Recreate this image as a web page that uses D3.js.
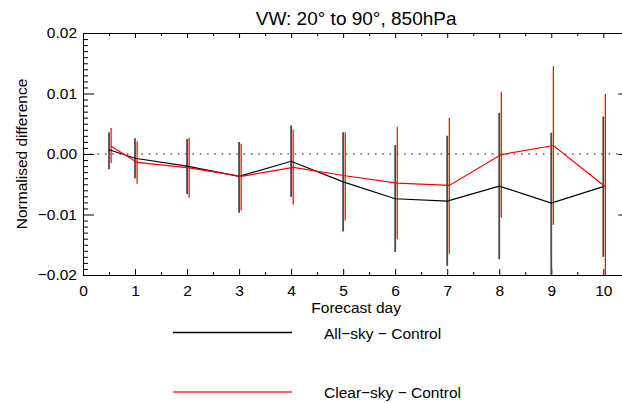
<!DOCTYPE html>
<html><head><meta charset="utf-8">
<script src="https://cdn.jsdelivr.net/npm/d3@7"></script>
<style>
body{margin:0;background:#fff}
svg{display:block;font-family:"Liberation Sans",Arial,Helvetica,sans-serif}
</style>
</head><body>
<svg id="chart" width="622" height="403"></svg>
<script>
// ---- data ----
const days = [0.5, 1, 2, 3, 4, 5, 6, 7, 8, 9, 10];
const allSky   = [0.0007, -0.0007, -0.0020, -0.0037, -0.0012, -0.0046, -0.0074, -0.0078, -0.0053, -0.0081, -0.0054];
const allSkyHi = [0.0036, 0.0026, 0.0025, 0.0020, 0.0047, 0.0036, 0.0015, 0.0030, 0.0068, 0.0035, 0.0062];
const allSkyLo = [-0.0025, -0.0040, -0.0066, -0.0097, -0.0071, -0.0128, -0.0162, -0.0185, -0.0174, -0.0210, -0.0170];
const clearSky   = [0.0013, -0.0014, -0.0023, -0.0037, -0.0022, -0.0036, -0.0048, -0.0052, -0.0001, 0.0014, -0.0054];
const clearSkyHi = [0.0043, 0.0021, 0.0027, 0.0017, 0.0040, 0.0036, 0.0045, 0.0060, 0.0103, 0.0145, 0.0099];
const clearSkyLo = [-0.0015, -0.0049, -0.0072, -0.0093, -0.0084, -0.0110, -0.0141, -0.0165, -0.0105, -0.0117, -0.0210];
const xTicks = [0, 1, 2, 3, 4, 5, 6, 7, 8, 9, 10];
const yTicks = [-0.02, -0.01, 0.00, 0.01, 0.02];
const seriesNames = ["All\u2212sky \u2212 Control", "Clear\u2212sky \u2212 Control"];
const titleText = "VW: 20\u00b0 to 90\u00b0, 850hPa";
const xLabel = "Forecast day";
const yLabel = "Normalised difference";

// ---- layout ----
const svg = d3.select("#chart");
const L = 83, R = 629.3, T = 33, B = 275;
const x = d3.scaleLinear().domain([0, 10.5]).range([L, R]);
const y = d3.scaleLinear().domain([-0.02, 0.02]).range([B, T]);
const redShift = 0.04; // small horizontal offset of second series (days)

const xMinor = d3.range(0.5, 10.5, 1);
const yMinor = d3.range(-0.02, 0.02001, 0.001).filter(v => Math.abs(Math.round(v*100) - v*100) > 1e-6);

svg.append("defs").append("clipPath").attr("id","clip")
  .append("rect").attr("x",L).attr("y",T).attr("width",R-L).attr("height",B-T);

const fs = "15.5px";
function styleAxis(g){
  g.select(".domain").attr("stroke","#000").attr("stroke-width",1);
  g.selectAll(".tick line").attr("stroke","#000").attr("stroke-width",1);
  g.selectAll("text").attr("fill","#000").style("font-size",fs).style("font-family",'"Liberation Sans",Arial,sans-serif');
}

// bottom axis
svg.append("g").attr("transform",`translate(0,${B})`)
  .call(d3.axisBottom(x).tickValues(xTicks).tickFormat(d3.format("d")).tickSize(-6).tickSizeOuter(0).tickPadding(10))
  .call(styleAxis);
svg.append("g").attr("transform",`translate(0,${B})`)
  .call(d3.axisBottom(x).tickValues(xMinor).tickFormat("").tickSize(-3).tickSizeOuter(0))
  .call(styleAxis);
// top axis
svg.append("g").attr("transform",`translate(0,${T})`)
  .call(d3.axisBottom(x).tickValues(xTicks).tickFormat("").tickSize(5).tickSizeOuter(0))
  .call(styleAxis);
svg.append("g").attr("transform",`translate(0,${T})`)
  .call(d3.axisBottom(x).tickValues(xMinor).tickFormat("").tickSize(3).tickSizeOuter(0))
  .call(styleAxis);
// left axis
svg.append("g").attr("transform",`translate(${L},0)`)
  .call(d3.axisLeft(y).tickValues(yTicks).tickFormat(d3.format(".2f")).tickSize(-11).tickSizeOuter(0).tickPadding(6))
  .call(styleAxis);
svg.append("g").attr("transform",`translate(${L},0)`)
  .call(d3.axisLeft(y).tickValues(yMinor).tickFormat("").tickSize(-5).tickSizeOuter(0))
  .call(styleAxis);
// right axis
svg.append("g").attr("transform",`translate(${R},0)`)
  .call(d3.axisLeft(y).tickValues(yTicks).tickFormat("").tickSize(11).tickSizeOuter(0))
  .call(styleAxis);
svg.append("g").attr("transform",`translate(${R},0)`)
  .call(d3.axisLeft(y).tickValues(yMinor).tickFormat("").tickSize(5).tickSizeOuter(0))
  .call(styleAxis);

// zero dotted line
svg.append("line")
  .attr("x1",L).attr("x2",R).attr("y1",y(0)).attr("y2",y(0))
  .attr("stroke","#000").attr("stroke-width",1.2).attr("stroke-dasharray","1.5,5.8");

const plot = svg.append("g").attr("clip-path","url(#clip)");

// error bars
plot.selectAll(".ebA").data(days).join("line")
  .attr("x1",d=>x(d)).attr("x2",d=>x(d))
  .attr("y1",(d,i)=>y(allSkyHi[i])).attr("y2",(d,i)=>y(allSkyLo[i]))
  .attr("stroke","#4a4a4a").attr("stroke-width",1.8);
plot.selectAll(".ebC").data(days).join("line")
  .attr("x1",d=>x(d+redShift)).attr("x2",d=>x(d+redShift))
  .attr("y1",(d,i)=>y(clearSkyHi[i])).attr("y2",(d,i)=>y(clearSkyLo[i]))
  .attr("stroke","#ff0000").attr("stroke-width",1.2);

// lines
const lineA = d3.line().x(d=>x(d[0])).y(d=>y(d[1]));
plot.append("path").datum(days.map((d,i)=>[d, allSky[i]]))
  .attr("d",lineA).attr("fill","none").attr("stroke","#000").attr("stroke-width",1.2);
plot.append("path").datum(days.map((d,i)=>[d+redShift, clearSky[i]]))
  .attr("d",lineA).attr("fill","none").attr("stroke","#ff0000").attr("stroke-width",1.2);

// title
svg.append("text").attr("x",(L+R)/2).attr("y",25).attr("text-anchor","middle")
  .style("font-size","19px").attr("fill","#000").text(titleText);
// x label
svg.append("text").attr("x",(L+R)/2).attr("y",313).attr("text-anchor","middle")
  .style("font-size",fs).attr("fill","#000").text(xLabel);
// y label
svg.append("text").attr("transform",`translate(27,${y(0)}) rotate(-90)`).attr("text-anchor","middle")
  .style("font-size",fs).attr("fill","#000").text(yLabel);

// legend
const legColors = ["#000000","#ff3030"];
const legY = [332.5, 392];
const legend = svg.append("g");
legend.selectAll("line.leg").data(seriesNames).join("line")
  .attr("x1",173).attr("x2",292)
  .attr("y1",(d,i)=>legY[i]).attr("y2",(d,i)=>legY[i])
  .style("stroke",(d,i)=>legColors[i]).style("stroke-width","1.3px");
legend.selectAll("text.leg").data(seriesNames).join("text")
  .attr("x",324).attr("y",(d,i)=>legY[i]+6).style("font-size",fs)
  .attr("fill","#000").text(d=>d);
</script>
</body></html>
